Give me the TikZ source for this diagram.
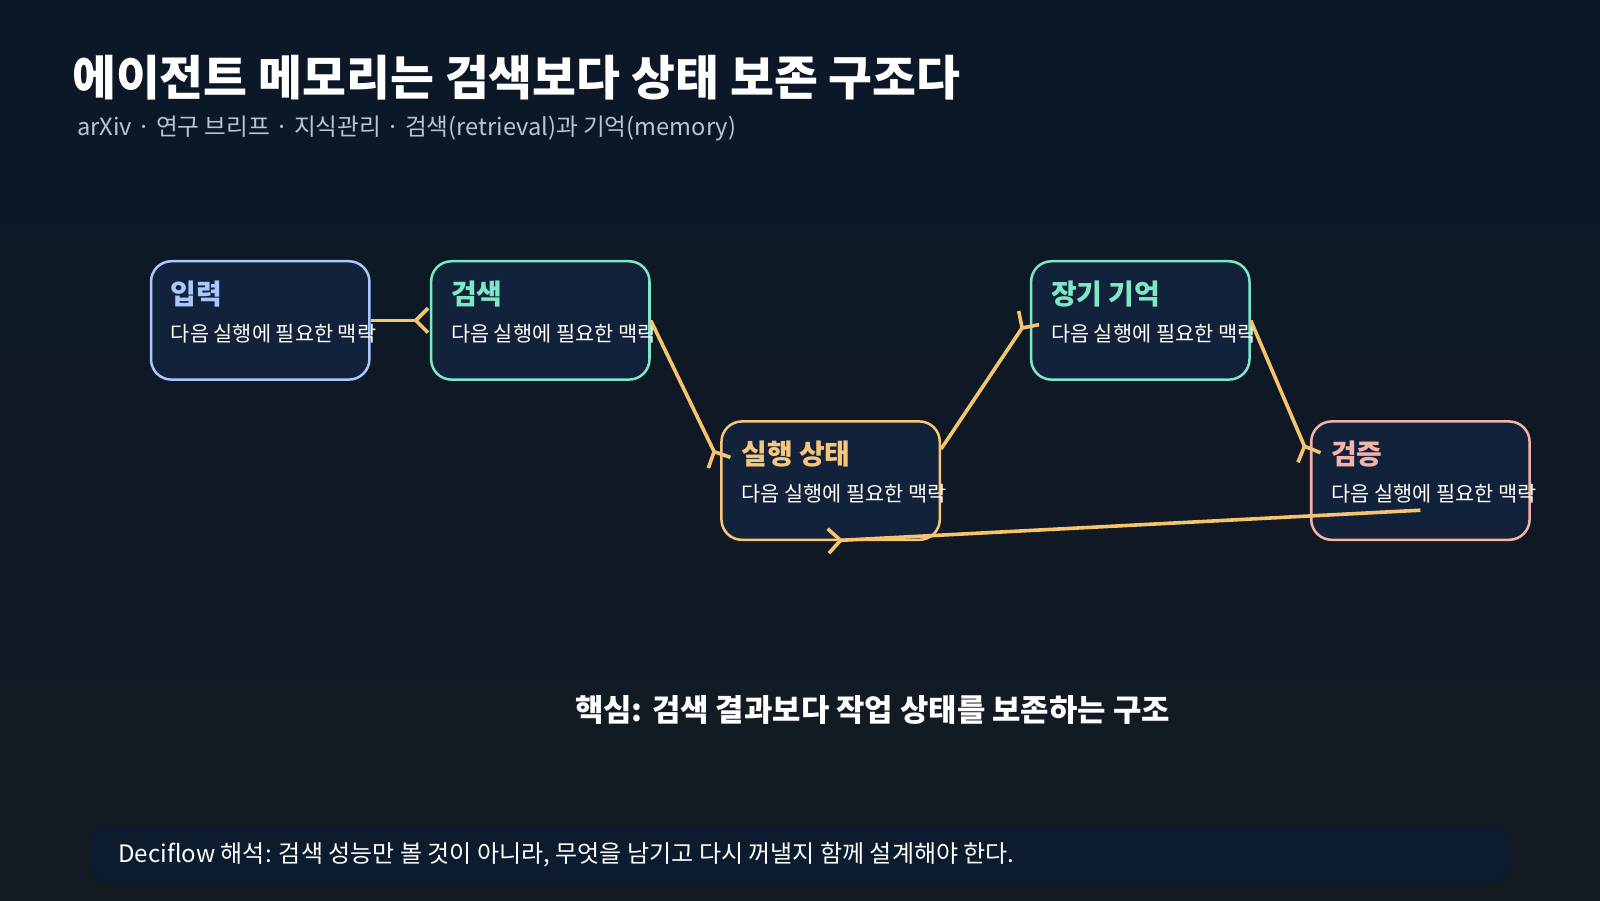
\documentclass[tikz,border=0pt]{standalone}
\usepackage{fontspec}
\setmainfont{Noto Sans CJK KR}
\usetikzlibrary{arrows.meta,positioning}
\definecolor{bgtop}{HTML}{0B1828}
\definecolor{bgbot}{HTML}{141A22}
\definecolor{boxfill}{HTML}{12223A}
\definecolor{cblue}{HTML}{A9C8FF}
\definecolor{cmint}{HTML}{7EE8C6}
\definecolor{cgold}{HTML}{F6C77A}
\definecolor{crose}{HTML}{F4B2A8}
\definecolor{carrow}{HTML}{F7C46E}
\definecolor{subgrey}{HTML}{B8C4D6}
\definecolor{barfill}{HTML}{0C1B2E}
\tikzstyle{stage}=[rectangle, rounded corners=0.2cm, fill=boxfill, line width=0.7pt, minimum width=2.14cm, minimum height=1.16cm, inner sep=0pt]
\tikzstyle{stitle}=[anchor=west, inner sep=0pt, font=\fontsize{7.8}{9}\selectfont\bfseries]
\tikzstyle{stext}=[anchor=west, inner sep=0pt, text=white, font=\fontsize{5.8}{7}\selectfont]
\tikzstyle{flow}=[draw=carrow, line width=1pt, -{Straight Barb[reversed,length=0.12cm,width=0.24cm]}]
\newcommand{\stagebox}[5]
{
  \node[stage, draw=#4](#1) at (#2){};
  \node[stitle, text=#4] (#1t) at ([xshift=0.2cm, yshift=-0.33cm]#1.north west) {#3};
  \node[stext] (#1d) at ([xshift=0.2cm, yshift=-0.72cm]#1.north west) {#5};
}
\begin{document}
\begin{tikzpicture}
	\useasboundingbox (0,0) rectangle (15.68,8.82);
	\shade[top color=bgtop, bottom color=bgbot] (0,0) rectangle (15.68,8.82);

	\node[anchor=base west, inner sep=0pt, text=white, font=\fontsize{13.3}{16}\selectfont\bfseries] (title) at (0.7,7.88) {에이전트 메모리는 검색보다 상태 보존 구조다};
	\node[anchor=west, text=subgrey, font=\fontsize{6.6}{8}\selectfont, inner sep=0pt] (sub) at (0.75,7.56) {arXiv · 연구 브리프 · 지식관리 · 검색(retrieval)과 기억(memory)};

	\stagebox{input}{2.55,5.68}{입력}{cblue}{다음 실행에 필요한 맥락}
	\stagebox{search}{5.295,5.68}{검색}{cmint}{다음 실행에 필요한 맥락}
	\stagebox{state}{8.14,4.11}{실행 상태}{cgold}{다음 실행에 필요한 맥락}
	\stagebox{memory}{11.175,5.68}{장기 기억}{cmint}{다음 실행에 필요한 맥락}
	\stagebox{verify}{13.92,4.11}{검증}{crose}{다음 실행에 필요한 맥락}

	\coordinate (vout) at (13.92,3.82);
	\draw[flow] (input.east) -- (search.west);
	\draw[flow] (search.east) -- ([yshift=0.16cm]state.west);
	\draw[flow] ([yshift=0.31cm]state.east) -- ([yshift=0.04cm]memory.west);
	\draw[flow] (memory.east) -- ([yshift=0.21cm]verify.west);
	\draw[flow] (vout) -- ([xshift=-0.04cm]state.south);

	\node[text=white, font=\fontsize{8.6}{10}\selectfont\bfseries] (key) at (8.55,1.86) {핵심: 검색 결과보다 작업 상태를 보존하는 구조};

	\node[rectangle, rounded corners=0.18cm, fill=barfill, minimum width=13.92cm, minimum height=0.55cm] (bar) at (7.84,0.445){};
	\node[anchor=west, inner sep=0pt, text=white, font=\fontsize{6.7}{8}\selectfont] (note) at ([xshift=0.28cm]bar.west) {Deciflow 해석: 검색 성능만 볼 것이 아니라, 무엇을 남기고 다시 꺼낼지 함께 설계해야 한다.};
\end{tikzpicture}
\end{document}
